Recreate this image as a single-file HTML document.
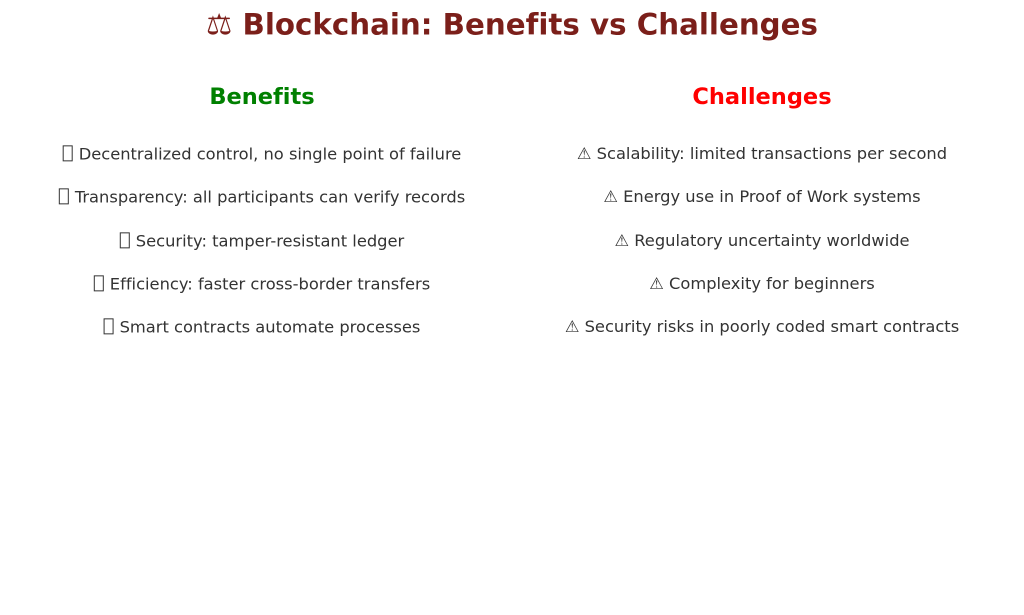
<!DOCTYPE html>
<html><head><meta charset="utf-8"><style>
body{margin:0;width:1024px;height:615px;background:#fff;font-family:"DejaVu Sans","Liberation Sans",sans-serif;position:relative;overflow:hidden;font-variant-ligatures:none}
.t{position:absolute;white-space:nowrap;transform:translate(-50%,-50%);line-height:1}
.title{font-size:29.3px;font-weight:bold;color:#7b1f1a}
.h{font-size:22.5px;font-weight:bold}
.r{font-size:16.3px;color:#333}
.box{display:inline-block;width:8px;height:14px;border:1px solid #333;vertical-align:-2px;margin-right:6px}
</style></head><body>
<div class="t title" style="left:512px;top:25px">⚖ Blockchain: Benefits vs Challenges</div>
<div class="t h" style="left:262px;top:97px;color:#008000">Benefits</div>
<div class="t h" style="left:762px;top:97px;color:#ff0000">Challenges</div>
<div class="t r" style="left:262px;top:154px"><span class="box"></span>Decentralized control, no single point of failure</div>
<div class="t r" style="left:262px;top:197px"><span class="box"></span>Transparency: all participants can verify records</div>
<div class="t r" style="left:262px;top:241px"><span class="box"></span>Security: tamper-resistant ledger</div>
<div class="t r" style="left:262px;top:284px"><span class="box"></span>Efficiency: faster cross-border transfers</div>
<div class="t r" style="left:262px;top:327px"><span class="box"></span>Smart contracts automate processes</div>
<div class="t r" style="left:762px;top:154px">⚠ Scalability: limited transactions per second</div>
<div class="t r" style="left:762px;top:197px">⚠ Energy use in Proof of Work systems</div>
<div class="t r" style="left:762px;top:241px">⚠ Regulatory uncertainty worldwide</div>
<div class="t r" style="left:762px;top:284px">⚠ Complexity for beginners</div>
<div class="t r" style="left:762px;top:327px">⚠ Security risks in poorly coded smart contracts</div>
</body></html>
